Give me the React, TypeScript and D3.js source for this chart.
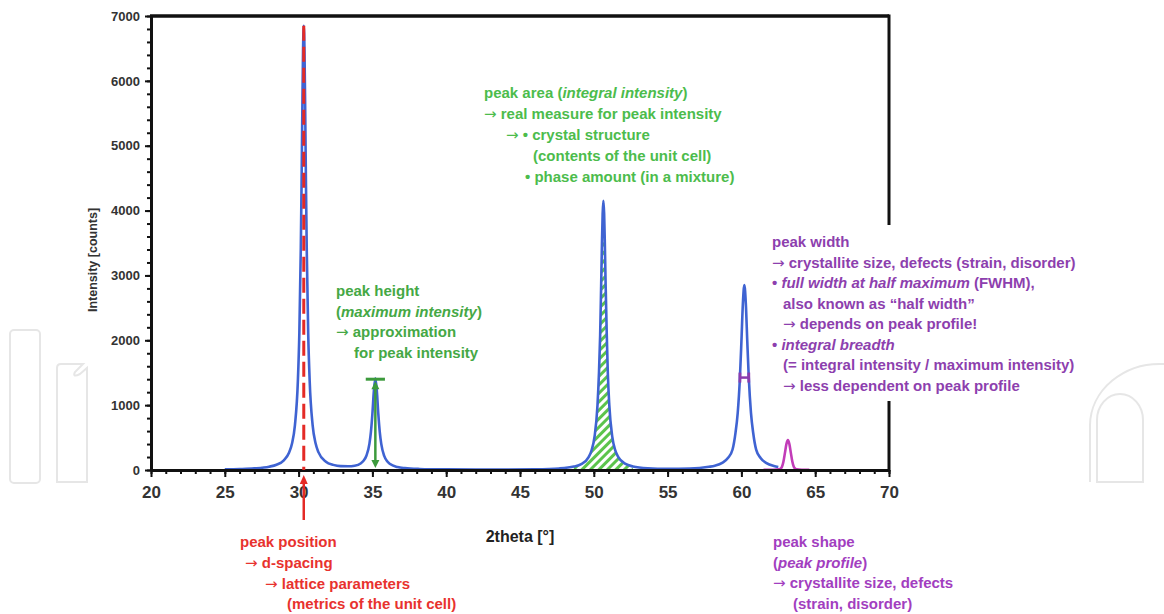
import React, { useEffect, useRef } from "react";
import * as d3 from "d3";

const width = 1164;
const height = 614;
const margin = { top: 16, right: 275, bottom: 144, left: 151 };

// diffraction pattern (2theta in degrees, intensity in counts)
const twoTheta = [
  25, 26, 27, 28, 28.5, 29, 29.35, 29.55, 29.75, 29.95, 30.05, 30.15, 30.2, 30.25, 30.3, 30.35,
  30.4, 30.45, 30.5, 30.55, 30.65, 30.75, 30.95, 31.15, 31.35, 31.85, 32.35, 32.85, 33.35, 33.8,
  34.2, 34.4, 34.6, 34.8, 34.9, 35.0, 35.1, 35.2, 35.3, 35.4, 35.5, 35.6, 35.8, 36.0, 36.2, 36.7,
  37.2, 38.2, 40, 42, 44, 46, 47.65, 48.65, 49.15, 49.65, 49.85, 50.05, 50.25, 50.35, 50.43, 50.5,
  50.55, 50.6, 50.65, 50.7, 50.75, 50.8, 50.88, 50.95, 51.05, 51.25, 51.45, 51.65, 52.15, 52.65,
  53.65, 55, 56.5, 57.8, 58.2, 58.7, 59.1, 59.4, 59.6, 59.75, 59.9, 60.0, 60.1, 60.2, 60.3, 60.4,
  60.5, 60.65, 60.8, 61.0, 61.3, 61.7, 62.2, 62.5,
];
const counts = [
  10, 15, 25, 51, 81, 150, 266, 406, 688, 1370, 2108, 3425, 4384, 5480, 6447, 6850,
  6452, 5485, 4390, 3431, 2114, 1376, 692, 411, 272, 128, 79, 59, 57, 67,
  101, 142, 223, 407, 587, 867, 1219, 1412, 1219, 865, 585, 403, 217, 134, 91, 46,
  29, 16, 9, 7, 7, 11, 24, 53, 91, 200, 304, 512, 998, 1493, 2075, 2874,
  3466, 3955, 4150, 3955, 3466, 2874, 2075, 1495, 1000, 514, 306, 203, 94, 55,
  27, 18, 22, 49, 66, 110, 188, 316, 573, 879, 1427, 1973, 2565, 2850, 2565, 1973,
  1425, 877, 570, 313, 185, 106, 61, 46,
];

// small peak used for the peak shape note
const shapeTheta = [61.5, 62.2, 62.55, 62.65, 62.75, 62.85, 62.95, 63.05, 63.15, 63.25, 63.35, 63.45, 63.55, 63.65, 63.75, 64.1, 64.6];
const shapeCounts = [3, 4, 10, 20, 50, 132, 264, 400, 460, 400, 264, 132, 50, 20, 10, 4, 2];

const xTicks = [20, 25, 30, 35, 40, 45, 50, 55, 60, 65, 70];
const yTicks = [0, 1000, 2000, 3000, 4000, 5000, 6000, 7000];

// annotated features
const positionPeak = { theta: 30.35, top: 6850 };
const heightPeak = { theta: 35.2, top: 1400 };
const areaRange = [48.6, 52.8];
const fwhmRange = [59.9, 60.5];
const halfMax = 1425;

// note texts, _..._ marks italic
const positionNotes = ["peak position", "→ d-spacing", "→ lattice parameters", "(metrics of the unit cell)"];
const heightNotes = ["peak height", "(_maximum intensity_)", "→ approximation", "for peak intensity"];
const areaNotes = [
  "peak area (_integral intensity_)",
  "→ real measure for peak intensity",
  "→ • crystal structure",
  "(contents of the unit cell)",
  "• phase amount (in a mixture)",
];
const widthNotes = [
  "peak width",
  "→ crystallite size, defects (strain, disorder)",
  "• _full width at half maximum_ (FWHM),",
  "also known as “half width”",
  "→ depends on peak profile!",
  "• _integral breadth_",
  "(= integral intensity / maximum intensity)",
  "→ less dependent on peak profile",
];
const shapeNotes = ["peak shape", "(_peak profile_)", "→ crystallite size, defects", "(strain, disorder)"];

const FONT = "'Liberation Sans', Arial, sans-serif";

const App = () => {
  const ref = useRef<SVGSVGElement>(null);

  useEffect(() => {
    drawChart();
  }, []);

  const drawChart = () => {
    const svg = d3.select(ref.current);
    svg.selectAll("*").remove();

    const w = width - margin.left - margin.right;
    const h = height - margin.top - margin.bottom;

    const x = d3.scaleLinear().domain([20, 70]).range([0, w]);
    const y = d3.scaleLinear().domain([0, 7000]).range([h, 0]);

    // hatch for the peak area
    const defs = svg.append("defs");
    const pat = defs
      .append("pattern")
      .attr("id", "hatch")
      .attr("patternUnits", "userSpaceOnUse")
      .attr("width", 6)
      .attr("height", 6)
      .attr("patternTransform", "rotate(45)");
    pat.append("rect").attr("width", 6).attr("height", 6).attr("fill", "#ffffff");
    pat.append("rect").attr("width", 3).attr("height", 6).attr("fill", "#5cc44c");

    // faint watermark
    const wm = svg.append("g").attr("fill", "none").attr("stroke", "#e6e6e6").attr("stroke-width", 2);
    wm.append("rect").attr("x", 10).attr("y", 330).attr("width", 30).attr("height", 153).attr("rx", 4);
    wm.append("path").attr("d", "M57,482 L57,368 Q57,364 61,364 L83,364 L75,372 Q72,378 80,374 L87,368 L87,482 Z");
    wm.append("path").attr("d", "M1090,482 L1090,425 A70,62 0 0 1 1164,364");
    wm.append("path").attr("d", "M1097,482 L1097,420 A23,26 0 0 1 1143,420 L1143,482 Z");

    const g = svg.append("g").attr("transform", `translate(${margin.left}, ${margin.top})`);

    const pattern = twoTheta.map((t, i) => [t, counts[i]] as [number, number]);
    const shape = shapeTheta.map((t, i) => [t, shapeCounts[i]] as [number, number]);

    // peak area
    const area = d3
      .area<[number, number]>()
      .x((d) => x(d[0]))
      .y0(y(0))
      .y1((d) => y(d[1]))
      .curve(d3.curveMonotoneX);
    g.append("path")
      .datum(pattern.filter((d) => d[0] >= areaRange[0] && d[0] <= areaRange[1]))
      .attr("d", area)
      .attr("fill", "url(#hatch)");

    const line = d3
      .line<[number, number]>()
      .x((d) => x(d[0]))
      .y((d) => y(d[1]))
      .curve(d3.curveMonotoneX);

    g.append("path")
      .datum(pattern)
      .attr("d", line)
      .attr("fill", "none")
      .attr("stroke", "#3f63d2")
      .attr("stroke-width", 2.6);

    g.append("path")
      .datum(shape)
      .attr("d", line)
      .attr("fill", "none")
      .attr("stroke", "#c23cb8")
      .attr("stroke-width", 2.6);

    // axes
    const styleAxis = (sel, size) => {
      sel.select(".domain").attr("stroke", "#111").attr("stroke-width", 3);
      sel.selectAll(".tick line").attr("stroke", "#111").attr("stroke-width", 2);
      sel
        .selectAll(".tick text")
        .attr("fill", "#333")
        .style("font-family", FONT)
        .style("font-weight", "bold")
        .style("font-size", `${size}px`);
    };

    const xMinor = g
      .append("g")
      .attr("transform", `translate(0, ${h})`)
      .call(d3.axisBottom(x).tickValues(d3.range(20, 71, 1)).tickSize(4).tickSizeOuter(0).tickFormat(() => ""));
    styleAxis(xMinor, 10);
    const xAxis = g
      .append("g")
      .attr("transform", `translate(0, ${h})`)
      .call(d3.axisBottom(x).tickValues(xTicks).tickSize(7).tickSizeOuter(0).tickPadding(9));
    styleAxis(xAxis, 17);

    const yMinor = g
      .append("g")
      .call(d3.axisLeft(y).tickValues(d3.range(0, 7001, 200)).tickSize(4).tickSizeOuter(0).tickFormat(() => ""));
    styleAxis(yMinor, 10);
    const yAxis = g
      .append("g")
      .call(d3.axisLeft(y).tickValues(yTicks).tickSize(6).tickSizeOuter(0).tickPadding(5).tickFormat((d) => `${d}`));
    styleAxis(yAxis, 13);

    // frame top + right
    g.append("line").attr("x1", -1).attr("x2", w).attr("y1", 0).attr("y2", 0).attr("stroke", "#111").attr("stroke-width", 3.5);
    g.append("line").attr("x1", w).attr("x2", w).attr("y1", -1.5).attr("y2", h + 1.5).attr("stroke", "#111").attr("stroke-width", 3);

    g.append("text")
      .attr("transform", `translate(${97 - margin.left}, ${h / 2 + 17}) rotate(-90)`)
      .attr("text-anchor", "middle")
      .attr("fill", "#333")
      .style("font-family", FONT)
      .style("font-weight", "bold")
      .style("font-size", "12.5px")
      .text("Intensity [counts]");

    g.append("text")
      .attr("x", 520 - margin.left)
      .attr("y", 542 - margin.top)
      .attr("text-anchor", "middle")
      .attr("fill", "#222")
      .style("font-family", FONT)
      .style("font-weight", "bold")
      .style("font-size", "16px")
      .text("2theta [°]");

    // peak position marker
    const red = "#e42a26";
    const px = x(positionPeak.theta);
    g.append("line")
      .attr("x1", px).attr("x2", px)
      .attr("y1", y(positionPeak.top)).attr("y2", y(0))
      .attr("stroke", red).attr("stroke-width", 3)
      .attr("stroke-dasharray", "15 6");
    g.append("line")
      .attr("x1", px).attr("x2", px)
      .attr("y1", h + 50).attr("y2", h + 12)
      .attr("stroke", red).attr("stroke-width", 2.5);
    g.append("path")
      .attr("d", `M${px},${h + 5} L${px - 4},${h + 14} L${px + 4},${h + 14} Z`)
      .attr("fill", red);

    // peak height marker
    const green = "#3c9a3c";
    const hx = x(heightPeak.theta);
    const hTop = y(heightPeak.top);
    g.append("line")
      .attr("x1", x(heightPeak.theta - 0.65)).attr("x2", x(heightPeak.theta + 0.65))
      .attr("y1", hTop).attr("y2", hTop)
      .attr("stroke", green).attr("stroke-width", 3);
    g.append("line")
      .attr("x1", hx).attr("x2", hx)
      .attr("y1", hTop + 6).attr("y2", y(0) - 6)
      .attr("stroke", green).attr("stroke-width", 2.5);
    g.append("path")
      .attr("d", `M${hx},${hTop + 2} L${hx - 4},${hTop + 10} L${hx + 4},${hTop + 10} Z`)
      .attr("fill", green);
    g.append("path")
      .attr("d", `M${hx},${y(0) - 2} L${hx - 4},${y(0) - 10} L${hx + 4},${y(0) - 10} Z`)
      .attr("fill", green);

    // FWHM marker
    const purple = "#8c3cae";
    const fy = y(halfMax);
    g.append("line")
      .attr("x1", x(fwhmRange[0])).attr("x2", x(fwhmRange[1]))
      .attr("y1", fy).attr("y2", fy)
      .attr("stroke", purple).attr("stroke-width", 2.5);
    fwhmRange.forEach((t) => {
      g.append("line")
        .attr("x1", x(t)).attr("x2", x(t))
        .attr("y1", fy - 5).attr("y2", fy + 5)
        .attr("stroke", purple).attr("stroke-width", 2.8);
    });

    // white box behind the peak width note
    svg.append("rect").attr("x", 765).attr("y", 225).attr("width", 323).attr("height", 176).attr("fill", "#fff");

    const notes = (lines, x0, y0, indents, step, color, size) => {
      const t = svg.append("g").attr("fill", color).style("font-family", FONT).style("font-weight", "bold").style("font-size", `${size}px`);
      lines.forEach((ln, i) => {
        const txt = t.append("text").attr("x", x0 + indents[i]).attr("y", y0 + i * step);
        ln.split("_").forEach((part, j) => {
          if (!part) return;
          part.split(/(→)/).forEach((bit) => {
            if (!bit) return;
            const ts = txt.append("tspan").style("font-style", j % 2 ? "italic" : "normal").text(bit);
            if (bit === "→") ts.style("font-family", "'DejaVu Sans', sans-serif").style("font-weight", "normal");
          });
        });
      });
    };

    notes(positionNotes, 240, 547, [0, 5, 25, 47], 20.8, "#e8322e", 15);
    notes(heightNotes, 336, 296, [0, 0, 0, 18], 20.5, "#45a845", 15);
    notes(areaNotes, 484, 98, [0, 0, 22, 49, 41], 21, "#4cbc4c", 15);
    notes(widthNotes, 772, 247, [0, 0, 0, 11, 11, 0, 11, 11], 20.5, "#8d3fae", 15);
    notes(shapeNotes, 773, 547, [0, 0, 0, 20], 20.5, "#a23ec0", 15);
  };

  return (
    <svg
      ref={ref}
      width={width}
      height={height}
      style={{ position: "absolute", left: 0, top: 0, background: "#fff" }}
    />
  );
};

export default App;
